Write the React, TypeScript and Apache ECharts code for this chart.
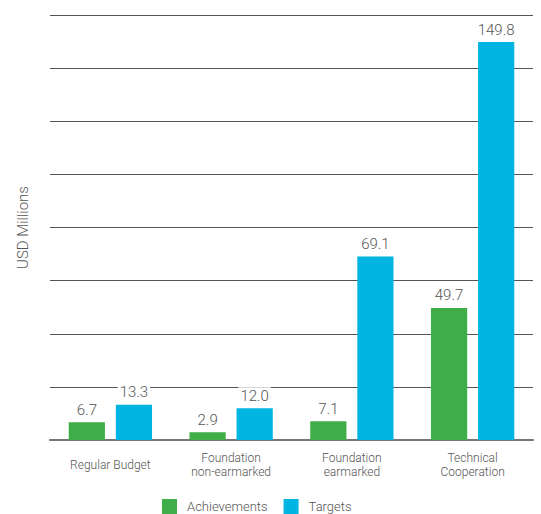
import React, { useEffect, useRef } from "react";
import * as echarts from "echarts";

const categories = ["Regular Budget", "Foundation\nnon-earmarked", "Foundation\nearmarked", "Technical\nCooperation"];
const achievements = [6.7, 2.9, 7.1, 49.7];
const targets = [13.3, 12.0, 69.1, 149.8];
const seriesNames = ["Achievements", "Targets"];

export default function App() {
  const ref = useRef<HTMLDivElement>(null);
  useEffect(() => {
    if (!ref.current) return;
    const chart = echarts.init(ref.current, null, { renderer: "svg" });
    const font = "Roboto";
    const label = {
      show: true,
      position: "top",
      distance: 4,
      formatter: (p: any) => Number(p.value).toFixed(1),
      color: "#555",
      fontFamily: font,
      fontWeight: 300,
      fontSize: 15,
      backgroundColor: "#fff",
      padding: [1, 2],
    };
    chart.setOption({
      animation: false,
      grid: { left: 50, right: 8, top: 15, bottom: 74 },
      legend: {
        top: 494,
        left: 157,
        itemWidth: 15,
        itemHeight: 15,
        itemGap: 16,
        icon: "rect",
        textStyle: { color: "#555", fontFamily: font, fontWeight: 300, fontSize: 13, padding: [0, 0, 0, 5] },
        data: seriesNames,
      },
      xAxis: {
        type: "category",
        data: categories,
        axisLine: { lineStyle: { color: "#777", width: 2 } },
        axisTick: { show: false },
        axisLabel: {
          color: "#555",
          fontFamily: font,
          fontWeight: 300,
          fontSize: 12,
          lineHeight: 14,
          margin: 25,
          verticalAlign: "middle",
          interval: 0,
        },
      },
      yAxis: {
        type: "value",
        min: 0,
        max: 160,
        interval: 20,
        name: "USD Millions",
        nameLocation: "middle",
        nameGap: 20,
        nameTextStyle: { color: "#555", fontFamily: font, fontWeight: 300, fontSize: 15 },
        axisLabel: { show: false },
        axisLine: { show: false },
        axisTick: { show: false },
        splitLine: { lineStyle: { color: "#555", width: 1 } },
      },
      series: [
        {
          name: seriesNames[0],
          type: "bar",
          data: achievements,
          barWidth: "30%",
          barGap: "30%",
          itemStyle: { color: "#3fae49" },
          label,
        },
        {
          name: seriesNames[1],
          type: "bar",
          data: targets,
          barWidth: "30%",
          itemStyle: { color: "#00b5e2" },
          label,
        },
      ],
    });
    return () => chart.dispose();
  }, []);
  return <div ref={ref} style={{ width: 541, height: 514, position: "absolute", left: 0, top: 0 }} />;
}
